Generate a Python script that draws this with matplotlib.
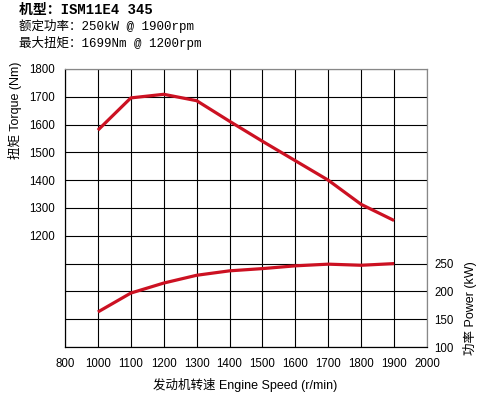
import numpy as np
from matplotlib import pyplot as plt

# engine speed (r/min) and curves
speed = [1000, 1100, 1200, 1300, 1400, 1500, 1600, 1700, 1800, 1900]
torque = [1580, 1696, 1709, 1686, 1612, 1540, 1470, 1400, 1313, 1255]  # Nm
power = [163, 197, 215, 229, 237, 241, 246, 249, 247, 250]  # kW

x_ticks = [900, 1000, 1100, 1200, 1300, 1400, 1500, 1600, 1700, 1800, 1900, 2000]
x_labels = ["800", "1000", "1100", "1200", "1300", "1400", "1500", "1600",
            "1700", "1800", "1900", "2000"]
torque_ticks = list(range(800, 1801, 100))
torque_labels = [str(t) if t >= 1200 else "" for t in torque_ticks]
power_ticks = [100, 150, 200, 250]

header = ["机型：ISM11E4 345", "额定功率：250kW @ 1900rpm", "最大扭矩：1699Nm @ 1200rpm"]

plt.rcParams["font.family"] = ["Liberation Sans", "Noto Sans CJK SC"]
red = "#cc1122"

fig = plt.figure(figsize=(4.82, 3.97), dpi=100)
ax = fig.add_axes([65 / 482, 50 / 397, 362 / 482, 278 / 397])
ax2 = ax.twinx()

ax.plot(speed, torque, color=red, lw=2.3, solid_capstyle="butt")
ax2.plot(speed, power, color=red, lw=2.3, solid_capstyle="butt")

ax.set_xlim(900, 2000)
ax.set_ylim(800, 1800)
ax2.set_ylim(100, 600)
ax.set_xticks(x_ticks)
ax.set_xticklabels(x_labels, fontsize=8.3)
ax.set_yticks(torque_ticks)
ax.set_yticklabels(torque_labels, fontsize=8.3)
ax2.set_yticks(power_ticks)
ax2.set_yticklabels([str(p) for p in power_ticks], fontsize=8.3)

ax.grid(True, color="black", lw=0.8)
ax.tick_params(axis="both", length=0)
ax.tick_params(axis="y", pad=7)
ax.tick_params(axis="x", pad=8)
ax2.tick_params(axis="y", length=0, pad=5)

for a in (ax, ax2):
    a.spines["left"].set_color("black")
    a.spines["bottom"].set_color("black")
    a.spines["top"].set_color("#888888")
    a.spines["right"].set_color("#888888")
    for s in a.spines.values():
        s.set_linewidth(0.8)

fig.text(245 / 482, 1 - 385 / 397, "发动机转速 Engine Speed (r/min)", fontsize=9,
         ha="center", va="center")
fig.text(15 / 482, 1 - 110 / 397, "扭矩 Torque (Nm)", fontsize=9, rotation=90,
         ha="center", va="center")
fig.text(470 / 482, 1 - 308 / 397, "功率 Power (kW)", fontsize=9, rotation=90,
         ha="center", va="center")

mono = ["Liberation Mono", "Noto Sans CJK SC"]
fig.text(19 / 482, 1 - 10 / 397, header[0], fontsize=10, fontweight="bold",
         family=mono, va="center")
for i, line in enumerate(header[1:]):
    fig.text(19 / 482, 1 - (26 + 17 * i) / 397, line, fontsize=9, family=mono,
             va="center")

fig.savefig("out.png", dpi=100)
